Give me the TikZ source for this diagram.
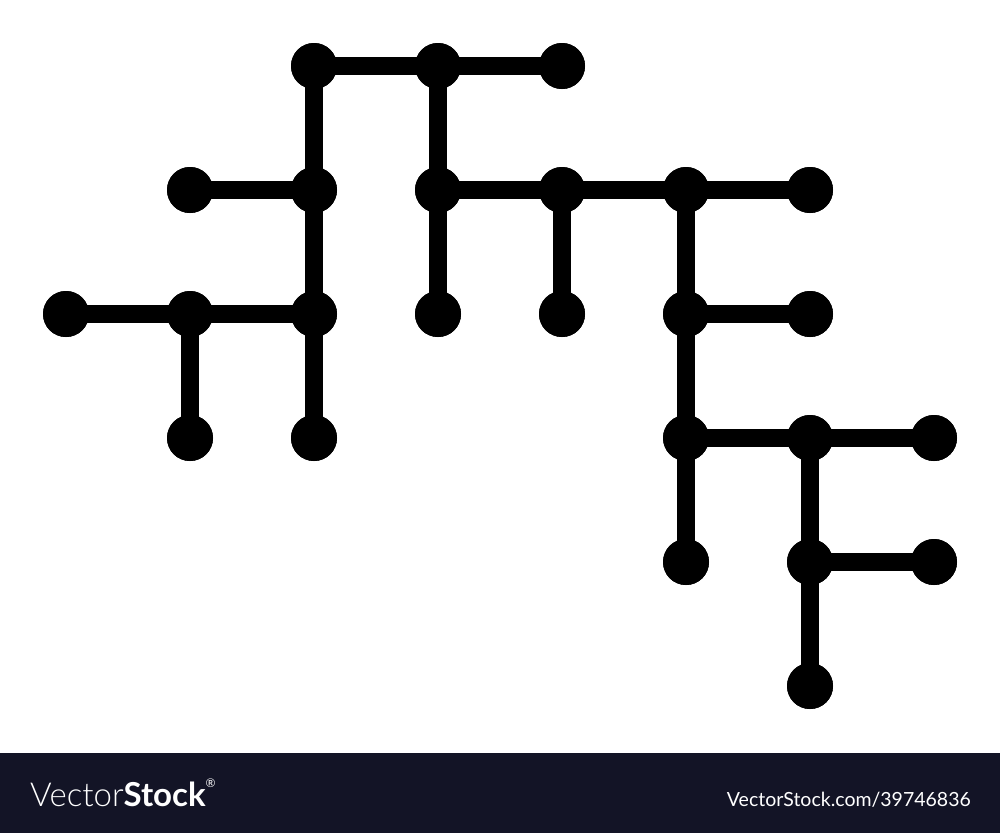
\documentclass[tikz,border=0pt]{standalone}
\usepackage{fontspec}
\setmainfont{Lato}
\newfontfamily\lightfont{Lato Light}
\definecolor{bar}{HTML}{131426}
\tikzset{
  link/.style={line width=18pt},
  dot/.style={circle, fill=black, inner sep=0pt, minimum size=46pt},
}
\begin{document}
\begin{tikzpicture}[x=1pt,y=-1pt]
\useasboundingbox (0,0) rectangle (1000,833);
\fill[white] (0,0) rectangle (1000,833);
% dots
\foreach \n/\x/\y in {a/314/66,b/438/66,c/562/66,
  d/190/190,e/314/190,f/438/190,g/562/190,h/686/190,i/810/190,
  j/66/314,k/190/314,l/314/314,m/438/314,n/562/314,o/686/314,p/810/314,
  q/190/438,r/314/438,s/686/438,t/810/438,u/934/438,
  v/686/562,w/810/562,x/934/562,y/810/686}
  \node[dot] (\n) at (\x,\y) {};
% links
\draw[link] (a.center) -- (b.center) -- (c.center);
\draw[link] (a.center) -- (e.center) -- (l.center) -- (r.center);
\draw[link] (b.center) -- (f.center) -- (m.center);
\draw[link] (d.center) -- (e.center);
\draw[link] (f.center) -- (g.center) -- (h.center) -- (i.center);
\draw[link] (g.center) -- (n.center);
\draw[link] (h.center) -- (o.center) -- (s.center) -- (v.center);
\draw[link] (j.center) -- (k.center) -- (l.center);
\draw[link] (k.center) -- (q.center);
\draw[link] (o.center) -- (p.center);
\draw[link] (s.center) -- (t.center) -- (u.center);
\draw[link] (t.center) -- (w.center) -- (y.center);
\draw[link] (w.center) -- (x.center);
% redraw dots on top
\foreach \n in {a,b,c,d,e,f,g,h,i,j,k,l,m,n,o,p,q,r,s,t,u,v,w,x,y}
  \fill (\n) circle (23pt);
% watermark bar
\fill[bar] (0,753) rectangle (1000,833);
\node[anchor=base west, inner sep=0pt, text=white, font=\fontsize{33}{33}\selectfont] (logo) at (30,806)
  {{\lightfont Vector}\textbf{Stock}\raisebox{1.1ex}{\fontsize{12}{12}\selectfont ®}};
\node[anchor=base east, inner sep=0pt, text=white, font=\fontsize{19.5}{19.5}\selectfont] (url) at (971,806)
  {VectorStock.com/39746836};
\end{tikzpicture}
\end{document}
